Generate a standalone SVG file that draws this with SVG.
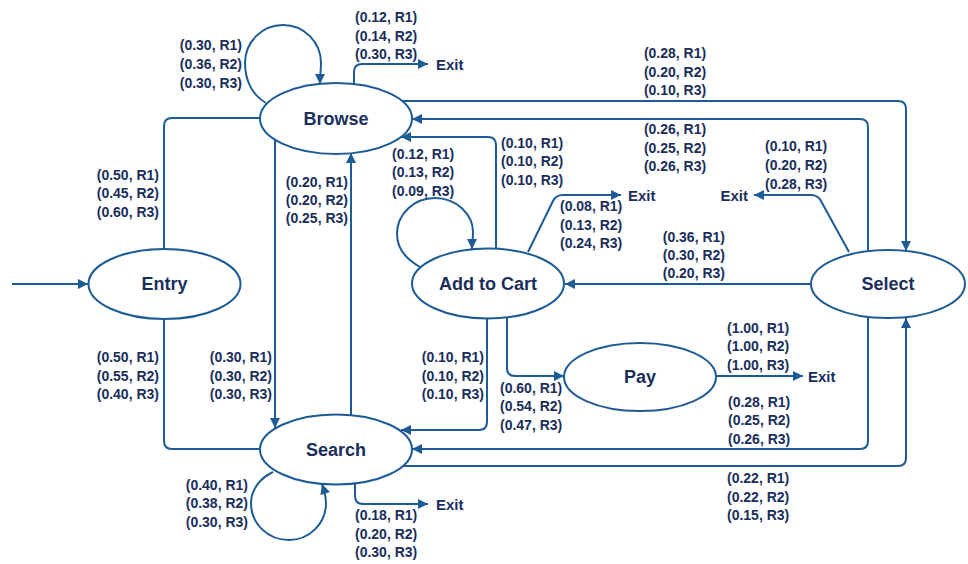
<svg xmlns="http://www.w3.org/2000/svg" width="968" height="564" viewBox="0 0 968 564">
<defs>
<marker id="a" viewBox="0 0 10 10" refX="10" refY="5" markerWidth="11" markerHeight="10" orient="auto" markerUnits="userSpaceOnUse"><path d="M0,0 L10,5 L0,10 z" fill="#1d5b96"/></marker>
</defs>
<style>
.n ellipse{fill:#fff;stroke:#1d5b96;stroke-width:2}
.n text{font-family:"Liberation Sans",Arial,sans-serif;font-weight:bold;font-size:18px;fill:#1a2e5c;text-anchor:middle;dominant-baseline:central}
.e path{fill:none;stroke:#1d5b96;stroke-width:2}
.e path.ar{marker-end:url(#a)}
text.l{font-family:"Liberation Sans",Arial,sans-serif;font-weight:bold;font-size:14px;fill:#1a2e5c;dominant-baseline:central}
text.x{font-family:"Liberation Sans",Arial,sans-serif;font-weight:bold;font-size:15px;fill:#1a2e5c;dominant-baseline:central}
.r{text-anchor:end}
.m{text-anchor:middle}
</style>
<rect width="968" height="564" fill="#fff"/>
<g id="connectors" class="e">
<path class="ar" d="M12,284 H88"/>
<path d="M164,249 V126 Q164,118 172,118 H260"/>
<path d="M164,319 V441 Q164,449 172,449 H259"/>
<path class="ar" d="M275,140 V428"/>
<path class="ar" d="M351,415 V153"/>
<path class="ar" d="M266,103 C252,95 245,80 245,63 C245,42 262,25 283,25 C304,25 321,42 321,63 C321,70 320,76 320,84"/>
<path class="ar" d="M354,84 V72 Q354,64 362,64 H428"/>
<path class="ar" d="M402,101 H898 Q906,101 906,109 V251"/>
<path class="ar" d="M868,251 V127 Q868,119 860,119 H412"/>
<path class="ar" d="M496,249 V145 Q496,137 488,137 H401"/>
<path class="ar" d="M420,267 C404,258 397,246 397,234 C397,214 414,198 435,198 C456,198 473,214 473,232 C473,238 472,243 472,249"/>
<path class="ar" d="M528,252 L553,201 Q556,195 563,195 H621"/>
<path class="ar" d="M849,252 L821,201 Q818,195 811,195 H754"/>
<path class="ar" d="M811,284 H565"/>
<path class="ar" d="M507,317 V368 Q507,376 515,376 H564"/>
<path class="ar" d="M487,318 V422 Q487,430 479,430 H401"/>
<path class="ar" d="M716,376 H803"/>
<path class="ar" d="M868,317 V441 Q868,449 860,449 H412"/>
<path class="ar" d="M403,466 H898 Q906,466 906,458 V318"/>
<path class="ar" d="M273,472 C260,478 251,490 251,503 C251,524 268,540 289,540 C309,540 326,524 326,503 C326,496 324,490 322,484"/>
<path class="ar" d="M355,483 V496 Q355,504 363,504 H428"/>
</g>
<g id="edge-labels">
<text class="l r" x="242" y="45">(0.30, R1)</text><text class="l r" x="242" y="64">(0.36, R2)</text><text class="l r" x="242" y="83">(0.30, R3)</text>
<text class="l" x="355" y="17">(0.12, R1)</text><text class="l" x="355" y="36">(0.14, R2)</text><text class="l" x="355" y="54">(0.30, R3)</text>
<text class="l m" x="675" y="53">(0.28, R1)</text><text class="l m" x="675" y="72">(0.20, R2)</text><text class="l m" x="675" y="90">(0.10, R3)</text>
<text class="l m" x="675" y="129">(0.26, R1)</text><text class="l m" x="675" y="148">(0.25, R2)</text><text class="l m" x="675" y="166">(0.26, R3)</text>
<text class="l" x="501" y="143">(0.10, R1)</text><text class="l" x="501" y="161">(0.10, R2)</text><text class="l" x="501" y="180">(0.10, R3)</text>
<text class="l" x="392" y="154">(0.12, R1)</text><text class="l" x="392" y="172">(0.13, R2)</text><text class="l" x="392" y="191">(0.09, R3)</text>
<text class="l" x="765" y="146">(0.10, R1)</text><text class="l" x="765" y="165">(0.20, R2)</text><text class="l" x="765" y="184">(0.28, R3)</text>
<text class="l" x="560" y="206">(0.08, R1)</text><text class="l" x="560" y="225">(0.13, R2)</text><text class="l" x="560" y="243">(0.24, R3)</text>
<text class="l r" x="725" y="237">(0.36, R1)</text><text class="l r" x="725" y="255">(0.30, R2)</text><text class="l r" x="725" y="273">(0.20, R3)</text>
<text class="l r" x="159" y="175">(0.50, R1)</text><text class="l r" x="159" y="193">(0.45, R2)</text><text class="l r" x="159" y="212">(0.60, R3)</text>
<text class="l r" x="272" y="357">(0.30, R1)</text><text class="l r" x="272" y="376">(0.30, R2)</text><text class="l r" x="272" y="394">(0.30, R3)</text>
<text class="l r" x="348" y="182">(0.20, R1)</text><text class="l r" x="348" y="200">(0.20, R2)</text><text class="l r" x="348" y="218">(0.25, R3)</text>
<text class="l r" x="159" y="357">(0.50, R1)</text><text class="l r" x="159" y="376">(0.55, R2)</text><text class="l r" x="159" y="394">(0.40, R3)</text>
<text class="l r" x="484" y="357">(0.10, R1)</text><text class="l r" x="484" y="376">(0.10, R2)</text><text class="l r" x="484" y="394">(0.10, R3)</text>
<text class="l" x="500" y="388">(0.60, R1)</text><text class="l" x="500" y="406">(0.54, R2)</text><text class="l" x="500" y="425">(0.47, R3)</text>
<text class="l" x="727" y="328">(1.00, R1)</text><text class="l" x="727" y="346">(1.00, R2)</text><text class="l" x="727" y="365">(1.00, R3)</text>
<text class="l" x="728" y="402">(0.28, R1)</text><text class="l" x="728" y="420">(0.25, R2)</text><text class="l" x="728" y="439">(0.26, R3)</text>
<text class="l" x="727" y="478">(0.22, R1)</text><text class="l" x="727" y="497">(0.22, R2)</text><text class="l" x="727" y="515">(0.15, R3)</text>
<text class="l r" x="248" y="485">(0.40, R1)</text><text class="l r" x="248" y="503">(0.38, R2)</text><text class="l r" x="248" y="522">(0.30, R3)</text>
<text class="l" x="355" y="515">(0.18, R1)</text><text class="l" x="355" y="534">(0.20, R2)</text><text class="l" x="355" y="552">(0.30, R3)</text>
</g>
<g id="exits">
<text class="x" x="436" y="64">Exit</text>
<text class="x" x="628" y="195">Exit</text>
<text class="x r" x="748" y="195">Exit</text>
<text class="x" x="808" y="376">Exit</text>
<text class="x" x="436" y="504">Exit</text>
</g>
<g id="browse" class="n"><ellipse cx="336" cy="118.5" rx="76" ry="35.5"/><text x="336" y="119">Browse</text></g>
<g id="entry" class="n"><ellipse cx="164.5" cy="284" rx="76" ry="35"/><text x="164.5" y="284">Entry</text></g>
<g id="addtocart" class="n"><ellipse cx="488" cy="283.5" rx="76" ry="35"/><text x="488" y="284">Add to Cart</text></g>
<g id="select" class="n"><ellipse cx="888" cy="284" rx="77" ry="34"/><text x="888" y="284">Select</text></g>
<g id="pay" class="n"><ellipse cx="640" cy="377" rx="76" ry="34"/><text x="640" y="377">Pay</text></g>
<g id="search" class="n"><ellipse cx="336" cy="449.5" rx="76" ry="35"/><text x="336" y="450">Search</text></g>
</svg>
